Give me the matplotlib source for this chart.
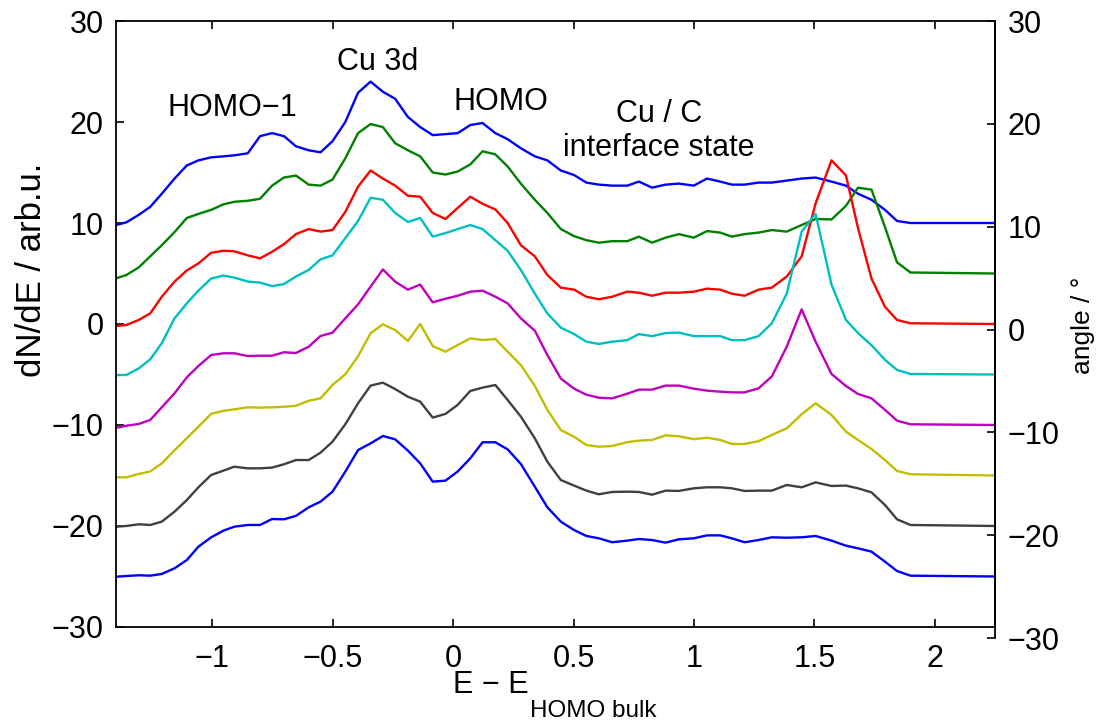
import matplotlib
matplotlib.use("Agg")
import matplotlib.pyplot as plt

plt.rcParams["font.family"] = ["Liberation Sans", "DejaVu Sans"]
plt.rcParams["font.size"] = 22

# energy axis (E - E_HOMO bulk, eV)
energy = [-1.40, -1.357, -1.306, -1.258, -1.210, -1.157, -1.106, -1.058, -1.005, -0.954,
          -0.909, -0.853, -0.802, -0.752, -0.703, -0.653, -0.600, -0.551, -0.501, -0.448,
          -0.395, -0.343, -0.292, -0.241, -0.188, -0.137, -0.085, -0.032, 0.019, 0.071,
          0.122, 0.175, 0.226, 0.281, 0.339, 0.391, 0.447, 0.502, 0.553, 0.605,
          0.660, 0.723, 0.771, 0.826, 0.882, 0.937, 0.999, 1.054, 1.109, 1.157,
          1.210, 1.268, 1.323, 1.385, 1.447, 1.505, 1.571, 1.631, 1.681, 1.737,
          1.793, 1.843, 1.899, 2.25]

# spectra, each shifted so that its baseline sits at the emission angle
spec_p10 = [9.8, 10.07, 10.8, 11.6, 12.9, 14.4, 15.7, 16.2, 16.5, 16.6,
            16.7, 16.9, 18.6, 18.9, 18.6, 17.6, 17.2, 17.0, 18.1, 20.0,
            22.9, 24.0, 23.0, 22.3, 20.5, 19.5, 18.7, 18.8, 18.9, 19.7,
            19.9, 18.9, 18.3, 17.4, 16.6, 16.2, 15.2, 14.75, 14.0, 13.8,
            13.7, 13.7, 14.1, 13.5, 13.8, 13.9, 13.7, 14.4, 14.1, 13.8,
            13.8, 14.0, 14.0, 14.2, 14.4, 14.5, 14.1, 13.7, 12.9, 12.3,
            11.3, 10.2, 10.0, 10.0]
spec_p5 = [4.52, 4.85, 5.6, 6.7, 7.8, 9.1, 10.5, 10.9, 11.3, 11.85,
           12.1, 12.2, 12.4, 13.7, 14.5, 14.7, 13.8, 13.7, 14.3, 16.4,
           18.9, 19.8, 19.5, 17.9, 17.2, 16.6, 15.0, 14.8, 15.1, 15.8,
           17.1, 16.8, 15.6, 13.9, 12.3, 11.0, 9.4, 8.7, 8.3, 8.05,
           8.2, 8.2, 8.65, 8.05, 8.55, 8.9, 8.55, 9.2, 9.05, 8.65,
           8.9, 9.05, 9.3, 9.15, 9.8, 10.4, 10.35, 11.7, 13.5, 13.3,
           9.6, 6.1, 5.1, 5.0]
spec_0 = [-0.2, -0.1, 0.4, 1.05, 2.7, 4.2, 5.3, 6.0, 7.05, 7.25,
          7.2, 6.8, 6.5, 7.15, 7.9, 8.9, 9.4, 9.15, 9.3, 11.1,
          13.6, 15.2, 14.4, 13.7, 12.7, 12.6, 11.0, 10.4, 11.5, 12.6,
          11.9, 11.35, 10.0, 7.8, 6.7, 4.85, 3.6, 3.4, 2.7, 2.45,
          2.7, 3.2, 3.1, 2.8, 3.1, 3.1, 3.2, 3.5, 3.4, 3.0,
          2.8, 3.4, 3.6, 4.7, 6.7, 11.95, 16.2, 14.7, 9.5, 4.5,
          1.7, 0.4, 0.07, 0.0]
spec_m5 = [-5.05, -5.05, -4.4, -3.5, -1.9, 0.56, 2.05, 3.3, 4.5, 4.8,
           4.6, 4.2, 4.1, 3.75, 3.95, 4.7, 5.35, 6.4, 6.8, 8.5,
           10.2, 12.5, 12.3, 11.0, 10.1, 10.5, 8.65, 9.0, 9.4, 9.8,
           9.4, 8.3, 7.25, 5.35, 3.0, 1.05, -0.36, -1.0, -1.75, -1.98,
           -1.75, -1.6, -1.0, -1.2, -0.9, -0.85, -1.2, -1.2, -1.2, -1.6,
           -1.6, -1.2, 0.07, 3.0, 9.15, 10.9, 3.9, 0.4, -0.9, -2.1,
           -3.55, -4.55, -4.95, -5.0]
spec_m10 = [-10.27, -10.07, -9.9, -9.5, -8.25, -6.86, -5.28, -4.16, -3.07, -2.9,
            -2.9, -3.17, -3.14, -3.14, -2.8, -2.87, -2.25, -1.19, -0.86, 0.56,
            1.95, 3.7, 5.4, 4.2, 3.4, 3.9, 2.15, 2.5, 2.8, 3.2,
            3.3, 2.7, 2.05, 0.56, -0.66, -3.07, -5.4, -6.4, -7.0, -7.3,
            -7.36, -6.9, -6.5, -6.5, -6.1, -6.1, -6.4, -6.6, -6.7, -6.77,
            -6.77, -6.37, -5.2, -2.25, 1.45, -1.75, -4.95, -6.14, -6.93, -7.36,
            -8.5, -9.57, -9.93, -10.0]
spec_m15 = [-15.18, -15.18, -14.85, -14.6, -13.8, -12.5, -11.3, -10.17, -8.9, -8.6,
            -8.45, -8.25, -8.28, -8.25, -8.2, -8.1, -7.6, -7.36, -6.04, -4.98,
            -3.2, -0.92, -0.03, -0.6, -1.68, 0.0, -2.18, -2.74, -2.08, -1.42,
            -1.58, -1.49, -2.74, -4.06, -6.14, -8.5, -10.5, -11.16, -11.98, -12.15,
            -12.08, -11.7, -11.55, -11.48, -11.02, -11.12, -11.4, -11.26, -11.48, -11.88,
            -11.88, -11.6, -10.99, -10.33, -8.94, -7.85, -9.0, -10.66, -11.48, -12.38,
            -13.47, -14.55, -14.88, -15.0]
spec_m20 = [-20.07, -20.0, -19.83, -19.9, -19.57, -18.58, -17.43, -16.17, -14.95, -14.52,
            -14.13, -14.29, -14.29, -14.22, -13.89, -13.47, -13.47, -12.74, -11.65, -9.93,
            -7.85, -6.1, -5.81, -6.44, -7.2, -7.69, -9.27, -8.9, -8.0, -6.63,
            -6.3, -6.04, -7.52, -9.17, -11.32, -13.63, -15.45, -16.0, -16.5, -16.86,
            -16.63, -16.6, -16.63, -16.9, -16.5, -16.53, -16.27, -16.17, -16.17, -16.27,
            -16.53, -16.5, -16.5, -15.94, -16.17, -15.68, -16.04, -16.0, -16.27, -16.67,
            -17.92, -19.34, -19.9, -20.0]
spec_m25 = [-25.02, -24.95, -24.88, -24.92, -24.75, -24.19, -23.37, -22.05, -21.12, -20.46,
            -20.07, -19.9, -19.9, -19.31, -19.34, -19.0, -18.15, -17.59, -16.6, -14.62,
            -12.48, -11.82, -11.09, -11.42, -12.54, -13.8, -15.61, -15.51, -14.6, -13.3,
            -11.71, -11.71, -12.41, -13.86, -16.11, -18.15, -19.57, -20.4, -20.99, -21.22,
            -21.61, -21.45, -21.29, -21.39, -21.65, -21.32, -21.22, -20.93, -20.93, -21.22,
            -21.61, -21.39, -21.12, -21.16, -21.12, -20.99, -21.45, -21.95, -22.21, -22.54,
            -23.53, -24.46, -24.92, -25.0]

spectra = [spec_p10, spec_p5, spec_0, spec_m5, spec_m10, spec_m15, spec_m20, spec_m25]
colores = [(0, 0, 1), (0, 0.5, 0), (1, 0, 0), (0, 0.75, 0.75),
           (0.75, 0, 0.75), (0.75, 0.75, 0), (0.25, 0.25, 0.25), (0, 0, 1)]

fig = plt.figure(figsize=(11.04, 7.22), dpi=100)
ax = fig.add_axes([0.1051, 0.1316, 0.7962, 0.8393])
ax2 = fig.add_axes([0.1051, 0.1163, 0.7962, 0.8546])

for y, c in zip(spectra, colores):
    ax.plot(energy, y, color=c, linewidth=1.7)

ax.set_xlim(-1.4, 2.25)
ax.set_ylim(-30, 30)
ax.set_xticks([-1, -0.5, 0, 0.5, 1, 1.5, 2])
ax.set_xticklabels(["\u22121", "\u22120.5", "0", "0.5", "1", "1.5", "2"])
ax.set_yticks(range(-30, 31, 10))
ax.tick_params(direction="in", length=6, width=1.2, top=True, right=False,
               labelsize=22, pad=9)
ax.tick_params(axis="x", pad=12)
for s in ax.spines.values():
    s.set_linewidth(1.3)

# x label with a lowered subscript
fig.text(0.4792, 0.0402, "E \u2212 E", ha="right", va="baseline", fontsize=22)
fig.text(0.4801, 0.0073, "HOMO bulk", ha="left", va="baseline", fontsize=17.5)

# second axis with the angle scale
ax2.patch.set_visible(False)
for side in ["left", "top", "bottom"]:
    ax2.spines[side].set_visible(False)
ax2.spines["right"].set_linewidth(1.3)
ax2.set_xticks([])
ax2.set_ylim(-30, 30)
ax2.set_yticks(range(-30, 31, 10))
ax2.yaxis.tick_right()
ax2.tick_params(direction="in", length=6, width=1.2, labelsize=22, pad=9)

fig.text(0.0287, 0.626, "dN/dE / arb.u.", rotation=90, ha="center", va="center", fontsize=25)
fig.text(0.981, 0.55, "angle / \u00b0", rotation=90, ha="center", va="center", fontsize=19)

ax.text(-0.918, 21.4, "HOMO\u22121", ha="center", va="center", fontsize=22)
ax.text(-0.314, 25.9, "Cu 3d", ha="center", va="center", fontsize=22)
ax.text(0.198, 22.0, "HOMO", ha="center", va="center", fontsize=22)
ax.text(0.854, 19.1, "Cu / C\ninterface state", ha="center", va="center",
        fontsize=22, linespacing=1.15)

fig.savefig("out.png", dpi=100)
